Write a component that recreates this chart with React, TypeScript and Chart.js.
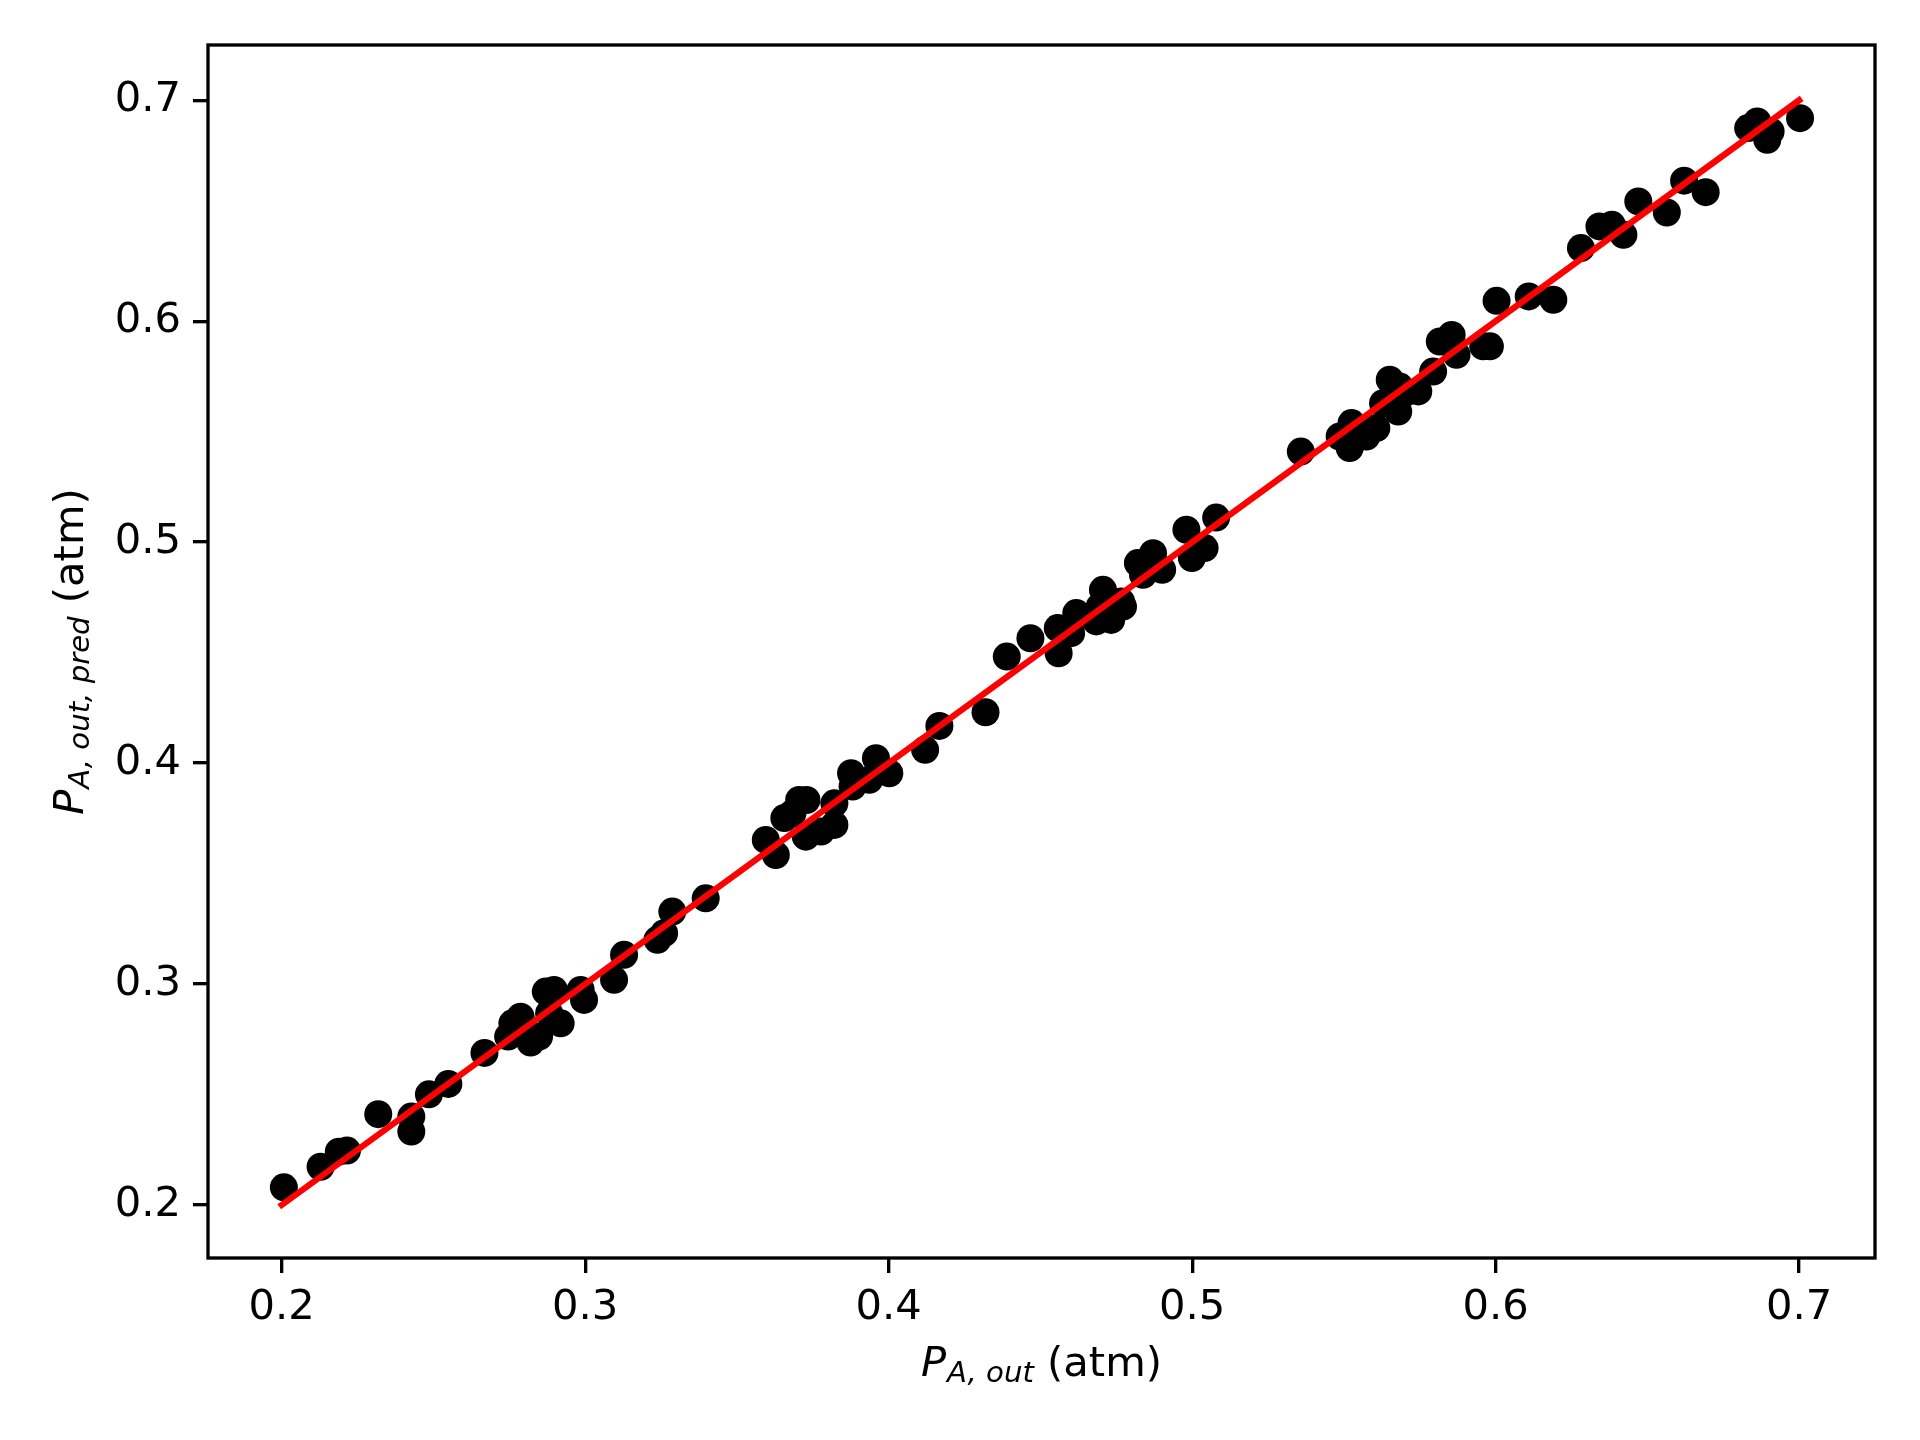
import { useEffect, useRef } from "react";
import { Chart, registerables } from "chart.js";

Chart.register(...registerables);

const FONT = "'DejaVu Sans', sans-serif";

// Measured values: P_A,out (x) vs predicted P_A,out,pred (y)
const xValues = [
  0.2007, 0.2128, 0.2188, 0.2215, 0.2318, 0.2427, 0.2427, 0.2485, 0.2549, 0.2668,
  0.2746, 0.276, 0.2787, 0.282, 0.2848, 0.287, 0.2897, 0.2919, 0.2881, 0.2985,
  0.2996, 0.3128, 0.3095, 0.3238, 0.326, 0.3287, 0.3397,
  0.3595, 0.3628, 0.3656, 0.3683, 0.3705, 0.3729, 0.3727, 0.3777, 0.3821, 0.3821,
  0.3876, 0.3881, 0.3936, 0.3958, 0.4002, 0.412, 0.4167, 0.4319, 0.4389, 0.4467,
  0.456, 0.4557, 0.4601, 0.4618, 0.4684, 0.4733, 0.4772, 0.4695,
  0.4706, 0.4766, 0.4821, 0.4871, 0.4838, 0.4901, 0.4981, 0.4999, 0.5041, 0.5079,
  0.5358, 0.5486, 0.5525, 0.5519, 0.5574, 0.5607, 0.5629, 0.5651, 0.5679, 0.5684,
  0.5745, 0.5794, 0.57,
  0.5816, 0.5855, 0.5871, 0.5959, 0.5981, 0.6003, 0.6109, 0.619, 0.6281, 0.6342,
  0.6383, 0.6421, 0.647, 0.6564, 0.6621, 0.6692, 0.6832, 0.6862, 0.6895, 0.6906,
  0.7003,
];
const yValues = [
  0.208, 0.2173, 0.2241, 0.2246, 0.2411, 0.24, 0.2332, 0.2501, 0.2548, 0.2688,
  0.2762, 0.2822, 0.2852, 0.2735, 0.2762, 0.2966, 0.2973, 0.2822, 0.2868, 0.2973,
  0.2928, 0.3132, 0.3019, 0.32, 0.323, 0.3328, 0.3388,
  0.3652, 0.3584, 0.3751, 0.3773, 0.3833, 0.3833, 0.3667, 0.369, 0.3818, 0.372,
  0.3954, 0.3894, 0.3924, 0.4022, 0.3954, 0.406, 0.4168, 0.423, 0.4482, 0.4565,
  0.4497, 0.4611, 0.4588, 0.4679, 0.4641, 0.4648, 0.4708, 0.4708,
  0.4784, 0.4731, 0.4905, 0.495, 0.4852, 0.4875, 0.5056, 0.4928, 0.4973, 0.5111,
  0.541, 0.5478, 0.5539, 0.5426, 0.5478, 0.5516, 0.5629, 0.5735, 0.5591, 0.5704,
  0.5682, 0.5772, 0.5674,
  0.5908, 0.5938, 0.5848, 0.5886, 0.5886, 0.6092, 0.6112, 0.6097, 0.6331, 0.6429,
  0.6436, 0.6391, 0.6542, 0.6492, 0.6636, 0.6584, 0.6874, 0.6904, 0.6821, 0.6859,
  0.6919,
];

// Parity (y = x) reference line
const lineX = [0.2, 0.7];
const lineY = [0.2, 0.7];

const xTicks = [0.2, 0.3, 0.4, 0.5, 0.6, 0.7];
const yTicks = [0.2, 0.3, 0.4, 0.5, 0.6, 0.7];

const xLabelSub = "A, out";
const yLabelSub = "A, out, pred";
const labelUnit = " (atm)";

function drawMathLabel(c: CanvasRenderingContext2D, sub: string, cx: number, baseline: number) {
  const big = `italic 41.67px ${FONT}`;
  const small = `italic 29.17px ${FONT}`;
  const reg = `41.67px ${FONT}`;
  c.font = big;
  const wP = c.measureText("P").width;
  c.font = small;
  const wS = c.measureText(sub).width;
  c.font = reg;
  const wR = c.measureText(labelUnit).width;
  const gap = 1;
  const total = wP + gap + wS + wR;
  let x = cx - total / 2;
  c.textAlign = "left";
  c.textBaseline = "alphabetic";
  c.font = big;
  c.fillText("P", x, baseline);
  x += wP + gap;
  c.font = small;
  c.fillText(sub, x, baseline + 6);
  x += wS;
  c.font = reg;
  c.fillText(labelUnit, x, baseline);
}

const framePlugin = {
  id: "frameAndLabels",
  afterDraw(chart: any) {
    const c: CanvasRenderingContext2D = chart.ctx;
    const a = chart.chartArea;
    c.save();
    c.strokeStyle = "#000";
    c.lineWidth = 3.33;
    c.strokeRect(a.left, a.top, a.right - a.left, a.bottom - a.top);
    c.fillStyle = "#000";
    drawMathLabel(c, xLabelSub, (a.left + a.right) / 2, 1376);
    c.translate(83, (a.top + a.bottom) / 2);
    c.rotate(-Math.PI / 2);
    drawMathLabel(c, yLabelSub, 0, 0);
    c.restore();
  },
};

export default function App() {
  const ref = useRef<HTMLCanvasElement>(null);
  useEffect(() => {
    document.body.style.margin = "0";
    const canvas = ref.current!;
    const points = xValues.map((x, i) => ({ x, y: yValues[i] }));
    const fit = lineX.map((x, i) => ({ x, y: lineY[i] }));
    const tickFont = { family: FONT, size: 41.67, lineHeight: 1.2 };
    const chart = new Chart(canvas, {
      type: "scatter",
      data: {
        datasets: [
          {
            type: "line",
            data: fit,
            borderColor: "#ff0000",
            backgroundColor: "#ff0000",
            borderWidth: 6.25,
            borderCapStyle: "square",
            pointRadius: 0,
            pointHoverRadius: 0,
            fill: false,
            tension: 0,
            order: 0,
          } as any,
          {
            type: "scatter",
            data: points,
            backgroundColor: "#000000",
            borderColor: "#000000",
            borderWidth: 0,
            pointRadius: 14,
            pointHoverRadius: 14,
            order: 1,
          } as any,
        ],
      },
      options: {
        responsive: false,
        animation: false,
        devicePixelRatio: 1,
        events: [],
        layout: { padding: { top: 45, right: 45, left: 0, bottom: 0 } },
        plugins: {
          legend: { display: false },
          tooltip: { enabled: false },
          title: { display: false },
        },
        scales: {
          x: {
            type: "linear",
            min: 0.1757,
            max: 0.725,
            afterFit: (s: any) => {
              s.height = 1440 - 1258;
            },
            afterBuildTicks: (s: any) => {
              s.ticks = xTicks.map((v) => ({ value: v }));
            },
            border: { display: false },
            grid: {
              display: true,
              drawOnChartArea: false,
              drawTicks: true,
              tickLength: 15,
              lineWidth: 3.33,
              color: "#000",
            },
            ticks: {
              color: "#000",
              font: tickFont,
              padding: 10,
              maxRotation: 0,
              autoSkip: false,
              callback: (v: any) => Number(v).toFixed(1),
            },
          },
          y: {
            type: "linear",
            min: 0.176,
            max: 0.725,
            afterFit: (s: any) => {
              s.width = 208;
            },
            afterBuildTicks: (s: any) => {
              s.ticks = yTicks.map((v) => ({ value: v }));
            },
            border: { display: false },
            grid: {
              display: true,
              drawOnChartArea: false,
              drawTicks: true,
              tickLength: 15,
              lineWidth: 3.33,
              color: "#000",
            },
            ticks: {
              color: "#000",
              font: tickFont,
              padding: 12,
              autoSkip: false,
              callback: (v: any) => Number(v).toFixed(1),
            },
          },
        },
      },
      plugins: [framePlugin],
    });
    return () => chart.destroy();
  }, []);
  return (
    <canvas
      ref={ref}
      width={1920}
      height={1440}
      style={{ display: "block", width: 1920, height: 1440 }}
    />
  );
}
